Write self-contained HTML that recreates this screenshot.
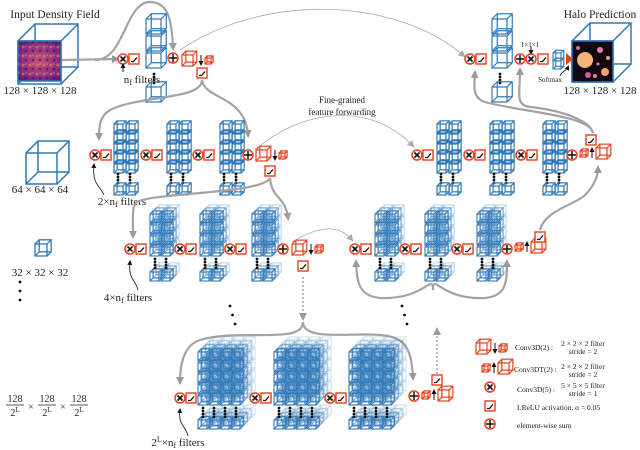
<!DOCTYPE html>
<html><head><meta charset="utf-8"><style>
html,body{margin:0;padding:0;background:#fff}
svg{display:block}
text{font-family:"Liberation Serif",serif;fill:#222}
</style></head><body>
<svg id="s" width="640" height="450" viewBox="0 0 640 450" xmlns="http://www.w3.org/2000/svg">
<defs>
<marker id="ah" markerWidth="8" markerHeight="8" refX="5" refY="4" orient="auto" markerUnits="userSpaceOnUse"><path d="M0,0 L8,4 L0,8 Z" fill="#9a9a9a"/></marker>
<marker id="ahs" markerWidth="7" markerHeight="7" refX="5" refY="3.5" orient="auto" markerUnits="userSpaceOnUse"><path d="M0,0 L7,3.5 L0,7 Z" fill="#aaa"/></marker>
<marker id="ak" markerWidth="5" markerHeight="5" refX="3" refY="2.5" orient="auto" markerUnits="userSpaceOnUse"><path d="M0,0 L5,2.5 L0,5 Z" fill="#111"/></marker>
<radialGradient id="inp" cx="50%" cy="50%" r="70%"><stop offset="0" stop-color="#c8507a"/><stop offset="0.6" stop-color="#8a2f86"/><stop offset="1" stop-color="#4a1870"/></radialGradient>
<pattern id="noise" width="7" height="9" patternUnits="userSpaceOnUse"><circle cx="2" cy="2" r="1.5" fill="#f28a3a" opacity="0.6"/><circle cx="5" cy="6" r="1.4" fill="#3a0f5e" opacity="0.6"/><circle cx="5" cy="1" r="0.8" fill="#ffd06a" opacity="0.5"/></pattern>
</defs>
<text x="55" y="18" font-size="11.5" text-anchor="middle">Input Density Field</text>
<text x="40" y="94" font-size="11" text-anchor="middle">128 × 128 × 128</text>
<text x="600" y="18" font-size="11.5" text-anchor="middle">Halo Prediction</text>
<text x="600" y="94" font-size="11" text-anchor="middle">128 × 128 × 128</text>
<text x="40" y="193" font-size="11" text-anchor="middle">64 × 64 × 64</text>
<text x="40" y="276" font-size="11" text-anchor="middle">32 × 32 × 32</text>
<text x="142" y="83" font-size="11" text-anchor="middle">n<tspan font-size="8" dy="2">f</tspan><tspan dy="-2"> filters</tspan></text>
<text x="122" y="205" font-size="11" text-anchor="middle">2×n<tspan font-size="8" dy="2">f</tspan><tspan dy="-2"> filters</tspan></text>
<text x="128" y="301" font-size="11" text-anchor="middle">4×n<tspan font-size="8" dy="2">f</tspan><tspan dy="-2"> filters</tspan></text>
<text x="178" y="446" font-size="11" text-anchor="middle">2<tspan font-size="8" dy="-4">L</tspan><tspan dy="4">×n</tspan><tspan font-size="8" dy="2">f</tspan><tspan dy="-2"> filters</tspan></text>
<text x="342" y="103" font-size="9" text-anchor="middle">Fine-grained</text>
<text x="342" y="115" font-size="9" text-anchor="middle">feature forwarding</text>
<text x="530" y="47" font-size="7" text-anchor="middle">1×1×1</text>
<text x="550" y="82" font-size="7" text-anchor="middle">Softmax</text>
<g font-size="10" text-anchor="middle">
<text x="15" y="402">128</text><line x1="6" y1="405" x2="24" y2="405" stroke="#222" stroke-width="0.7"/><text x="15" y="416">2<tspan font-size="7" dy="-4">L</tspan></text>
<text x="31" y="410">×</text>
<text x="47" y="402">128</text><line x1="38" y1="405" x2="56" y2="405" stroke="#222" stroke-width="0.7"/><text x="47" y="416">2<tspan font-size="7" dy="-4">L</tspan></text>
<text x="63" y="410">×</text>
<text x="79" y="402">128</text><line x1="70" y1="405" x2="88" y2="405" stroke="#222" stroke-width="0.7"/><text x="79" y="416">2<tspan font-size="7" dy="-4">L</tspan></text>
</g>
<g font-size="7.5">
<text x="515" y="350">Conv3D(2) :</text><text x="583" y="346" text-anchor="middle">2 × 2 × 2 filter</text><text x="583" y="354" text-anchor="middle">stride = 2</text>
<text x="514" y="372">Conv3DT(2) :</text><text x="583" y="369" text-anchor="middle">2 × 2 × 2 filter</text><text x="583" y="377" text-anchor="middle">stride = 2</text>
<text x="517" y="392">Conv3D(5) :</text><text x="583" y="388" text-anchor="middle">5 × 5 × 5 filter</text><text x="583" y="396" text-anchor="middle">stride = 1</text>
<text x="517" y="410">LReLU activation, α = 0.05</text>
<text x="517" y="428">element-wise sum</text>
</g>
<g id="g"></g>
</svg>
<script>
var B="#2f78b8",R="#e8401c",G="#a3a3a3",o="";
function cube(x,y,s,c,op,sw,dd){var d=dd||s*0.35;op=op||1;sw=sw||1;
o+='<g stroke="'+c+'" fill="none" stroke-width="'+sw+'" opacity="'+op+'"><rect x="'+(x+d)+'" y="'+(y-d)+'" width="'+s+'" height="'+s+'"/><rect x="'+x+'" y="'+y+'" width="'+s+'" height="'+s+'"/><path d="M'+x+','+y+'l'+d+','+(-d)+'M'+(x+s)+','+y+'l'+d+','+(-d)+'M'+(x+s)+','+(y+s)+'l'+d+','+(-d)+'M'+x+','+(y+s)+'l'+d+','+(-d)+'"/></g>';}
function conv(x,y){o+='<circle cx="'+x+'" cy="'+y+'" r="5" fill="#fff" stroke="'+R+'" stroke-width="1.5"/><path d="M'+(x-2.5)+','+(y-2.5)+'l5,5m0,-5l-5,5" stroke="#111" stroke-width="1.6"/>';}
function plus(x,y){o+='<circle cx="'+x+'" cy="'+y+'" r="5" fill="#fff" stroke="'+R+'" stroke-width="1.5"/><path d="M'+(x-4)+','+y+'h8M'+x+','+(y-4)+'v8" stroke="#111" stroke-width="1.5"/>';}
function relu(x,y){o+='<rect x="'+(x-5)+'" y="'+(y-5)+'" width="10" height="10" fill="#fff" stroke="'+R+'" stroke-width="1.4"/><path d="M'+(x-3)+','+(y+2.5)+'l2.5,0l3.5,-4" stroke="#111" stroke-width="1.3" fill="none"/>';}
function cr(x,y){conv(x,y);relu(x+11,y);}
function dots(x,y1,n,st,dx){dx=dx||0;for(var i=0;i<n;i++)o+='<circle cx="'+(x+i*dx)+'" cy="'+(y1+i*st)+'" r="1.4" fill="#111"/>';}
function path(d,m,w,dash){o+='<path d="'+d+'" fill="none" stroke="'+G+'" stroke-width="'+(w||2.2)+'"'+(dash?' stroke-dasharray="2,2"':'')+(m==='none'?'':' marker-end="url(#'+(m||'ah')+')"')+'/>';}
function kar(x1,y1,x2,y2){o+='<path d="M'+x1+','+y1+'L'+x2+','+y2+'" stroke="#111" stroke-width="1" marker-end="url(#ak)"/>';}
function down(x,y){cube(x,y,11,R,1,1.2);kar(x+19,y,x+19,y+9);cube(x+23,y+3,6,R,1,1.2);}
function up(x,y){cube(x,y+3,6,R,1,1.2);kar(x+12,y+10,x+12,y+1);cube(x+16,y,11,R,1,1.2);}
// input cube
cube(18,41,43,B,1,1.5,17);
o+='<rect x="18" y="41" width="43" height="40" fill="url(#inp)"/><rect x="18" y="41" width="43" height="40" fill="url(#noise)"/><rect x="18" y="41" width="43" height="40" fill="none" stroke="'+B+'" stroke-width="1.5"/>';
cube(572,41,41,B,1,1.5,18);
o+='<rect x="572" y="41" width="41" height="41" fill="#120812" stroke="'+B+'" stroke-width="1.5"/>';
[[585,60,8,"#f5b27a"],[600,50,3,"#e77bb0"],[605,72,4,"#f0a070"],[578,48,2,"#d86a9e"],[595,76,2,"#e97aa6"],[608,58,2,"#f0a070"],[588,75,3,"#cf5c9c"],[598,64,1.5,"#e27fb8"]].forEach(function(c){o+='<circle cx="'+c[0]+'" cy="'+c[1]+'" r="'+c[2]+'" fill="'+c[3]+'"/>';});
cube(26,153,31,B,1,1.5,12);
cube(35,244,12,B,1,1.3);
dots(20,282,3,9);
dots(230,306,3,9,2.5);dots(407,324,3,-9,-2.5);
// row 1 left
path("M62,60 L117,59");
path("M95,60 C125,60 125,2 150,2 C170,2 172,25 173,48");
o+='<path d="M180,50 C270,-10 400,0 464,56" fill="none" stroke="#aaa" stroke-width="0.8" marker-end="url(#ahs)"/>';
cr(123,59);kar(123,72,123,65);
for(var i=0;i<3;i++)cube(146,19+i*17,15,B,1,1.2);
dots(154,74,4,3);cube(146,87,15,B,1,1.2);
plus(173,58);down(182,55);relu(202,73);
// row1 right
cr(470,59);
for(var i=0;i<3;i++)cube(492,19+i*17,15,B,1,1.2);
dots(500,74,4,3);cube(492,87,15,B,1,1.2);
plus(520,59);conv(531,59);relu(543,59);kar(531,47,531,53);
cube(553,53,8,B,1,1.1);cube(553,61,8,B,1,1.1);
o+='<path d="M566,53 l7,6 l-7,6z" fill="'+R+'"/>';
o+='<path d="M560,76 C562,70 566,72 568,67" stroke="#111" fill="none" stroke-width="0.8" marker-end="url(#ak)"/>';
path("M593,133 C590,120 560,110 530,107 C515,105 520,95 520,70");
path("M593,133 C590,115 520,112 485,102 C472,98 474,85 475,73");
// row2
path("M202,80 C202,100 140,95 110,110 C100,116 99,125 99,138");
path("M202,80 C205,100 245,95 248,135");
o+='<path d="M255,150 C300,110 370,100 413,146" fill="none" stroke="#aaa" stroke-width="0.8" marker-end="url(#ahs)"/>';
function g2(x){for(var c=0;c<2;c++){for(var r=0;r<5;r++)cube(x+c*12,124+r*10,9,B,1,1.2);dots(x+c*12+4,174,4,3);cube(x+c*12,186,9,B,1,1.2);}}
cr(95,155);g2(114);cr(146,155);g2(167);cr(198,155);g2(220);
plus(248,155);down(256,150);relu(270,171);
o+='<path d="M104,195 C100,185 92,185 94,165" stroke="#111" fill="none" stroke-width="0.8" marker-end="url(#ak)"/>';
cr(417,155);g2(437);cr(469,155);g2(490);cr(521,155);g2(543);
plus(572,155);up(580,148);relu(591,140);
// row3
path("M270,178 C272,200 285,195 288,218");
path("M270,178 C262,195 140,192 135,204 C132,210 133,220 133,236");
o+='<path d="M292,242 C320,225 340,225 352,240" fill="none" stroke="#aaa" stroke-width="0.8" marker-end="url(#ahs)"/>';
path("M540,230 C545,210 575,205 585,195 C595,185 598,175 598,168");
function g3(x){for(var L=2;L>=0;L--){var op=L==0?1:(L==1?0.55:0.3);for(var c=0;c<2;c++){for(var r=0;r<4;r++)cube(x+c*11+L*3,214+r*11-L*3,9,B,op,1.1);cube(x+c*11+L*3,272-L*3,9,B,op,1.1);}}for(var c=0;c<2;c++)dots(x+c*11+5,259,4,3);}
cr(130,249);g3(150);cr(180,249);g3(200);cr(230,249);g3(252);
plus(283,249);down(292,244);relu(303,266);
o+='<path d="M138,290 C136,280 128,280 130,262" stroke="#111" fill="none" stroke-width="0.8" marker-end="url(#ak)"/>';
cr(355,249);g3(375);cr(405,249);g3(425);cr(457,249);g3(477);
plus(507,249);up(515,242);relu(540,237);
path("M433,290 C433,272 425,300 380,298 C360,296 357,285 356,262");
path("M433,290 C433,272 440,300 485,298 C505,296 507,285 507,262");
path("M437,382 L437,330",'ah',1.5,true);
// row 4
path("M303,277 L303,318",'ah',1.5,true);
path("M303,322 C303,345 240,328 200,340 C182,346 180,368 180,382");
path("M303,322 C303,345 370,328 395,338 C410,344 412,360 413,378");
function g4(x){for(var L=3;L>=0;L--){var op=[1,0.6,0.35,0.2][L];for(var c=0;c<4;c++){for(var r=0;r<5;r++)cube(x+c*11+L*4,352+r*11-L*4,9,B,op,1.1);cube(x+c*11+L*4,420-L*4,9,B,op,1.1);}}for(var c=0;c<4;c++)dots(x+c*11+5,408,4,3);}
cr(180,398);g4(198);cr(255,398);g4(274);cr(330,398);g4(349);
plus(414,396);up(422,390);relu(437,380);
o+='<path d="M188,436 C186,426 178,426 180,410" stroke="#111" fill="none" stroke-width="0.8" marker-end="url(#ak)"/>';
down(476,343);up(482,363);conv(490,387);relu(490,406);plus(490,424);
document.getElementById('g').innerHTML=o;
</script>
</body></html>
